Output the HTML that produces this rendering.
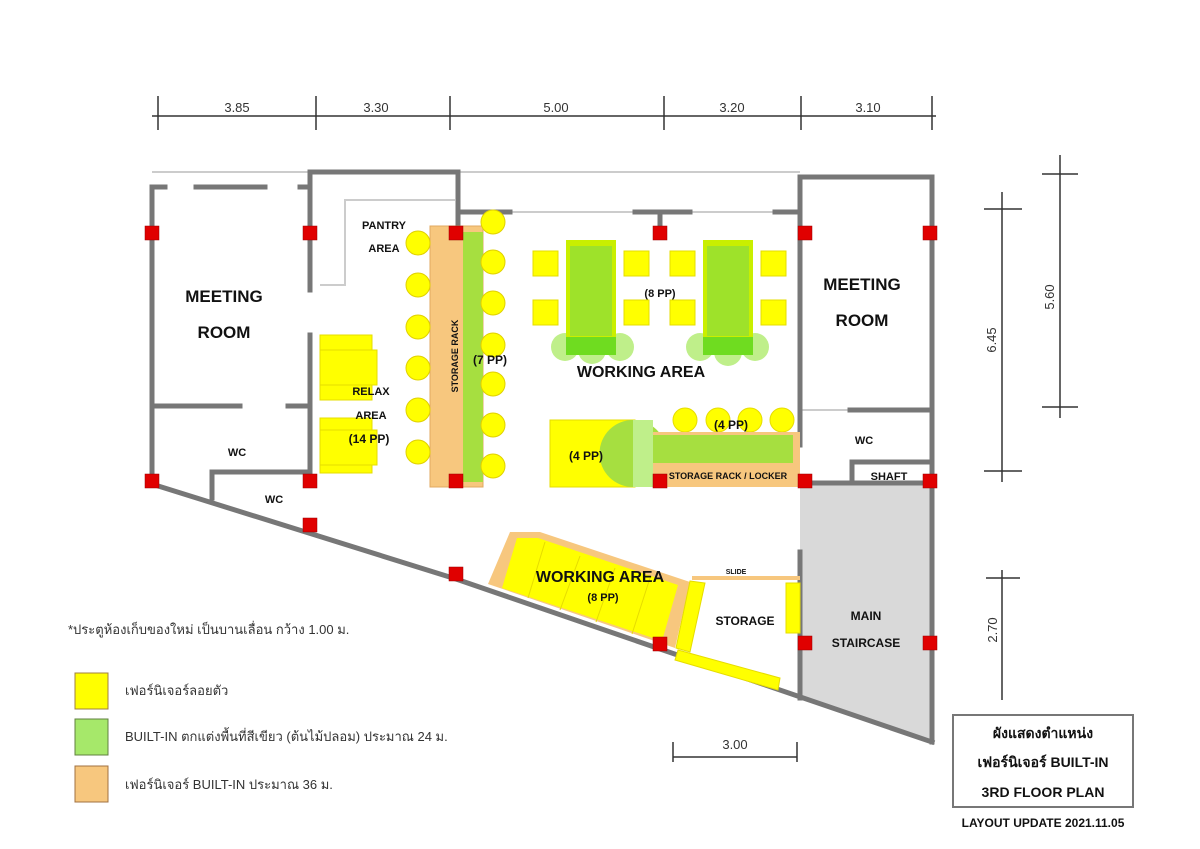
<!DOCTYPE html>
<html><head><meta charset="utf-8"><style>
html,body{margin:0;padding:0;background:#fff;}
svg{display:block;}
text{font-family:"Liberation Sans","DejaVu Sans",sans-serif;}
.b{font-weight:bold;fill:#111;}
</style></head><body>
<svg width="1200" height="849" viewBox="0 0 1200 849" xmlns="http://www.w3.org/2000/svg">
<rect width="1200" height="849" fill="#fff"/>
<g stroke="#333" stroke-width="1.5">
<line x1="152" y1="116" x2="936" y2="116"/>
<line x1="158" y1="96" x2="158" y2="130"/><line x1="316" y1="96" x2="316" y2="130"/>
<line x1="450" y1="96" x2="450" y2="130"/><line x1="664" y1="96" x2="664" y2="130"/>
<line x1="801" y1="96" x2="801" y2="130"/><line x1="932" y1="96" x2="932" y2="130"/>
<line x1="1002" y1="192" x2="1002" y2="482"/><line x1="984" y1="209" x2="1022" y2="209"/><line x1="984" y1="471" x2="1022" y2="471"/>
<line x1="1060" y1="155" x2="1060" y2="418"/><line x1="1042" y1="174" x2="1078" y2="174"/><line x1="1042" y1="407" x2="1078" y2="407"/>
<line x1="1002" y1="570" x2="1002" y2="700"/><line x1="986" y1="578" x2="1020" y2="578"/>
<line x1="673" y1="757" x2="797" y2="757"/><line x1="673" y1="742" x2="673" y2="762"/><line x1="797" y1="742" x2="797" y2="762"/>
</g>
<g font-size="13" fill="#333" text-anchor="middle">
<text x="237" y="112">3.85</text><text x="376" y="112">3.30</text><text x="556" y="112">5.00</text><text x="732" y="112">3.20</text><text x="868" y="112">3.10</text>
<text x="735" y="749">3.00</text>
<text transform="translate(996,340) rotate(-90)" >6.45</text>
<text transform="translate(1054,297) rotate(-90)" >5.60</text>
<text transform="translate(997,630) rotate(-90)" >2.70</text>
</g>
<polygon points="800,483 932,483 932,742 800,698" fill="#d9d9d9"/>
<g stroke="#ccc" stroke-width="2" fill="none">
<polyline points="152,172 310,172"/><line x1="458" y1="172" x2="800" y2="172"/>
<polyline points="320,285 345,285 345,200 455,200"/>
<line x1="456" y1="212" x2="800" y2="212"/>
<line x1="800" y1="410" x2="932" y2="410"/>
</g>
<g stroke="#777" stroke-width="5" fill="none" stroke-linecap="square">
<line x1="152" y1="187" x2="152" y2="483"/>
<line x1="152" y1="187" x2="165" y2="187"/><line x1="196" y1="187" x2="265" y2="187"/><line x1="300" y1="187" x2="310" y2="187"/>
<polyline points="310,290 310,172 458,172 458,233"/>
<line x1="310" y1="335" x2="310" y2="483"/>
<line x1="152" y1="406" x2="240" y2="406"/><line x1="288" y1="406" x2="310" y2="406"/>
<polyline points="212,498 212,472 310,472"/>
<line x1="458" y1="212" x2="510" y2="212"/><line x1="635" y1="212" x2="690" y2="212"/><line x1="775" y1="212" x2="800" y2="212"/>
<line x1="660" y1="212" x2="660" y2="233"/>
<polyline points="800,445 800,177 932,177 932,742"/>
<line x1="850" y1="410" x2="932" y2="410"/>
<polyline points="852,483 852,462 932,462"/>
<line x1="800" y1="483" x2="932" y2="483"/>
<line x1="800" y1="552" x2="800" y2="698"/>
<polyline points="155,485 456,579 660,649 932,742"/>
</g>
<rect x="430" y="226" width="53" height="261" fill="#f7c77e" stroke="#e0a860"/>
<rect x="463" y="232" width="20" height="250" fill="#a6df40"/>
<text transform="translate(458,356) rotate(-90)" font-size="9" class="b" text-anchor="middle">STORAGE RACK</text>
<g fill="#ffff00" stroke="#e0d000">
<circle cx="418" cy="243" r="12"/><circle cx="418" cy="285" r="12"/><circle cx="418" cy="327" r="12"/><circle cx="418" cy="368" r="12"/><circle cx="418" cy="410" r="12"/><circle cx="418" cy="452" r="12"/>
<circle cx="493" cy="222" r="12"/><circle cx="493" cy="262" r="12"/><circle cx="493" cy="303" r="12"/><circle cx="493" cy="345" r="12"/><circle cx="493" cy="384" r="12"/><circle cx="493" cy="425" r="12"/><circle cx="493" cy="466" r="12"/>
</g>
<g fill="#ffff00" stroke="#e6dc00">
<rect x="320" y="335" width="52" height="15"/><rect x="320" y="350" width="57" height="35"/><rect x="320" y="385" width="52" height="15"/>
<rect x="320" y="418" width="52" height="12"/><rect x="320" y="430" width="57" height="35"/><rect x="320" y="465" width="52" height="8"/>
</g>
<g fill="#ffff00" stroke="#e6dc00">
<rect x="533" y="251" width="25" height="25"/><rect x="533" y="300" width="25" height="25"/>
<rect x="624" y="251" width="25" height="25"/><rect x="624" y="300" width="25" height="25"/>
<rect x="670" y="251" width="25" height="25"/><rect x="670" y="300" width="25" height="25"/>
<rect x="761" y="251" width="25" height="25"/><rect x="761" y="300" width="25" height="25"/>
</g>
<g fill="#bfef8a"><circle cx="565" cy="347" r="14"/><circle cx="620" cy="347" r="14"/><circle cx="592" cy="350" r="14"/>
<circle cx="700" cy="347" r="14"/><circle cx="755" cy="347" r="14"/><circle cx="728" cy="352" r="14"/></g>
<rect x="566" y="240" width="50" height="115" fill="#c9ef00"/><rect x="570" y="246" width="42" height="90" fill="#9ee22a"/><rect x="566" y="337" width="50" height="18" fill="#6fdc20"/>
<rect x="703" y="240" width="50" height="115" fill="#c9ef00"/><rect x="707" y="246" width="42" height="90" fill="#9ee22a"/><rect x="703" y="337" width="50" height="18" fill="#6fdc20"/>
<rect x="550" y="420" width="85" height="67" fill="#ffff00" stroke="#e6dc00"/>
<path d="M633,420 A33,33 0 0 1 633,487 A33,33 0 0 1 633,420Z" fill="#a6df40"/>
<rect x="633" y="420" width="20" height="67" fill="#bfef8a"/>
<g fill="#ffff00" stroke="#e6dc00"><circle cx="685" cy="420" r="12"/><circle cx="718" cy="420" r="12"/><circle cx="750" cy="420" r="12"/><circle cx="782" cy="420" r="12"/></g>
<rect x="653" y="432" width="147" height="55" fill="#f7c77e"/>
<rect x="653" y="435" width="140" height="28" fill="#a6df40"/>
<text x="728" y="479" font-size="9" class="b" text-anchor="middle">STORAGE RACK / LOCKER</text>
<polygon points="510,532 540,532 690,582 675,648 488,584" fill="#f7c77e"/>
<polygon points="517,538 538,538 678,585 662,641 502,588" fill="#ffff00"/>
<g stroke="#e6dc00" stroke-width="1"><line x1="545" y1="542" x2="528" y2="598"/><line x1="580" y1="556" x2="560" y2="610"/><line x1="615" y1="568" x2="596" y2="622"/><line x1="650" y1="578" x2="632" y2="634"/></g>
<line x1="692" y1="578" x2="800" y2="578" stroke="#f7c77e" stroke-width="4"/>
<polygon points="690,581 705,583 690,652 676,648" fill="#ffff00" stroke="#e6dc00"/>
<polygon points="678,650 780,678 778,690 675,660" fill="#ffff00" stroke="#e6dc00"/>
<rect x="786" y="583" width="14" height="50" fill="#ffff00" stroke="#e6dc00"/>
<g fill="#e00000" stroke="#900" stroke-width="0.5">
<rect x="145" y="226" width="14" height="14"/><rect x="303" y="226" width="14" height="14"/><rect x="449" y="226" width="14" height="14"/><rect x="653" y="226" width="14" height="14"/><rect x="798" y="226" width="14" height="14"/><rect x="923" y="226" width="14" height="14"/>
<rect x="145" y="474" width="14" height="14"/><rect x="303" y="474" width="14" height="14"/><rect x="449" y="474" width="14" height="14"/><rect x="653" y="474" width="14" height="14"/><rect x="798" y="474" width="14" height="14"/><rect x="923" y="474" width="14" height="14"/>
<rect x="303" y="518" width="14" height="14"/><rect x="449" y="567" width="14" height="14"/><rect x="653" y="637" width="14" height="14"/><rect x="798" y="636" width="14" height="14"/><rect x="923" y="636" width="14" height="14"/>
</g>
<g class="b" text-anchor="middle">
<text x="224" y="302" font-size="17">MEETING</text><text x="224" y="338" font-size="17">ROOM</text>
<text x="862" y="290" font-size="17">MEETING</text><text x="862" y="326" font-size="17">ROOM</text>
<text x="384" y="229" font-size="11">PANTRY</text><text x="384" y="252" font-size="11">AREA</text>
<text x="371" y="395" font-size="11">RELAX</text><text x="371" y="419" font-size="11">AREA</text><text x="369" y="443" font-size="12">(14 PP)</text>
<text x="490" y="364" font-size="12">(7 PP)</text>
<text x="660" y="297" font-size="11">(8 PP)</text>
<text x="641" y="377" font-size="16">WORKING AREA</text>
<text x="586" y="460" font-size="12">(4 PP)</text>
<text x="731" y="429" font-size="12">(4 PP)</text>
<text x="237" y="456" font-size="11">WC</text><text x="274" y="503" font-size="11">WC</text>
<text x="864" y="444" font-size="11">WC</text><text x="889" y="480" font-size="11">SHAFT</text>
<text x="600" y="582" font-size="16">WORKING AREA</text><text x="603" y="601" font-size="11">(8 PP)</text>
<text x="736" y="574" font-size="7">SLIDE</text>
<text x="745" y="625" font-size="12">STORAGE</text>
<text x="866" y="620" font-size="12">MAIN</text><text x="866" y="647" font-size="12">STAIRCASE</text>
</g>
<text x="68" y="634" font-size="13" fill="#333">*ประตูห้องเก็บของใหม่ เป็นบานเลื่อน กว้าง 1.00 ม.</text>
<rect x="75" y="673" width="33" height="36" fill="#ffff00" stroke="#a08040"/>
<rect x="75" y="719" width="33" height="36" fill="#a6e86a" stroke="#608040"/>
<rect x="75" y="766" width="33" height="36" fill="#f7c77e" stroke="#a07040"/>
<text x="125" y="695" font-size="13" fill="#333">เฟอร์นิเจอร์ลอยตัว</text>
<text x="125" y="741" font-size="13" fill="#333">BUILT-IN ตกแต่งพื้นที่สีเขียว (ต้นไม้ปลอม) ประมาณ 24 ม.</text>
<text x="125" y="789" font-size="13" fill="#333">เฟอร์นิเจอร์ BUILT-IN ประมาณ 36 ม.</text>
<rect x="953" y="715" width="180" height="92" fill="#fff" stroke="#777" stroke-width="2"/>
<g class="b" text-anchor="middle" font-size="14">
<text x="1043" y="738">ผังแสดงตำแหน่ง</text>
<text x="1043" y="767">เฟอร์นิเจอร์ BUILT-IN</text>
<text x="1043" y="797">3RD FLOOR PLAN</text>
<text x="1043" y="827" font-size="12">LAYOUT UPDATE 2021.11.05</text>
</g>
</svg>
</body></html>
